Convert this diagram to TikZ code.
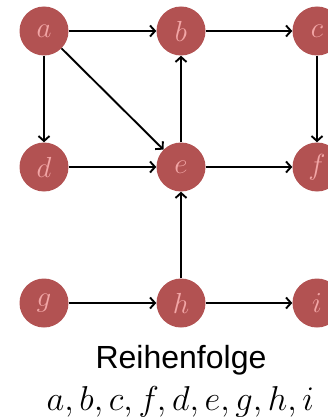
\RequirePackage{fix-cm}
\documentclass[tikz,border=0pt]{standalone}
\usepackage{fontspec}
\newfontfamily\labelsans{Liberation Sans}
\usetikzlibrary{arrows.meta}
\definecolor{nodefill}{HTML}{B25252}
\definecolor{nodetext}{HTML}{F2A6A6}
\begin{document}
\begin{tikzpicture}[x=1pt,y=-1pt,
  vertex/.style={circle,fill=nodefill,text=nodetext,minimum size=49pt,inner sep=0pt,font=\fontsize{29}{32}\selectfont},
  edge/.style={-{Straight Barb[length=5pt,width=11pt,line width=1.9pt]},line width=1.9pt,draw=black},
  caption/.style={anchor=base,inner sep=0pt}]
\useasboundingbox (0,0) rectangle (327,417);
\node[vertex] (a) at (44,31) {$a$};
\node[vertex] (b) at (181,31) {$b$};
\node[vertex] (c) at (317,31) {$c$};
\node[vertex] (d) at (44,167) {$d$};
\node[vertex] (e) at (181,167) {$e$};
\node[vertex] (f) at (317,167) {$f$};
\node[vertex] (g) at (44,303) {$g$};
\node[vertex] (h) at (181,303) {$h$};
\node[vertex] (i) at (317,303) {$i$};
\draw[edge] (a) -- (b);
\draw[edge] (b) -- (c);
\draw[edge] (a) -- (d);
\draw[edge] (a) -- (e);
\draw[edge] (c) -- (f);
\draw[edge] (d) -- (e);
\draw[edge] (e) -- (b);
\draw[edge] (e) -- (f);
\draw[edge] (g) -- (h);
\draw[edge] (h) -- (i);
\draw[edge] (h) -- (e);
\node[caption,font=\labelsans\fontsize{32}{36}\selectfont] (t1) at (181,368.3) {Reihenfolge};
\node[caption,font=\fontsize{34.5}{38}\selectfont] (t2) at (180.5,410) {$a,b,c,f,d,e,g,h,i$};
\end{tikzpicture}
\end{document}
